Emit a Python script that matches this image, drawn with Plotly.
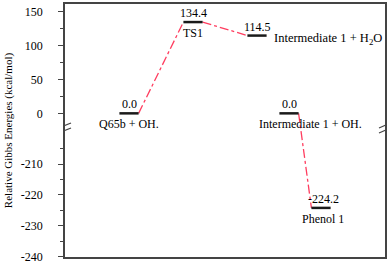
import numpy as np
import plotly.graph_objects as go

# ---------------- data ----------------
stage_names = ["Q65b + OH.", "TS1", "Intermediate 1 + H<sub>2</sub>O",
               "Intermediate 1 + OH.", "Phenol 1"]
stage_x = [1.0, 2.0, 3.0, 3.5, 4.0]
energies = [0.0, 134.4, 114.5, 0.0, -224.2]
connections = [(0, 1), (1, 2), (3, 4)]

major_ticks = [150, 100, 50, 0, -210, -220, -230, -240]
minor_ticks = [125, 75, 25, -205, -215, -225, -235]
y_title = "Relative Gibbs Energies (kcal/mol)"

# ---------------- broken-axis transform ----------------
BRK_HI = -20.0    # upper segment visible down to this value
BRK_LO = -198.0   # lower segment visible up to this value
K = 4.55          # stretch of lower segment
Y_TOP = 161.0
Y_BOT = -240.0


def ty(v):
    v = np.asarray(v, dtype=float)
    return np.where(v > (BRK_HI + BRK_LO) / 2, v, BRK_HI + (v - BRK_LO) * K)


HW = 0.15  # half width of level bars (x units)
FONT = "Liberation Serif"
BAR_COLOR = "#1a1a1a"
LINE_COLOR = "#ff3d5f"
AXIS_COLOR = "#444444"

fig = go.Figure()

# connecting dash-dot lines
for i, j in connections:
    fig.add_trace(go.Scatter(
        x=[stage_x[i] + HW, stage_x[j] - HW],
        y=ty([energies[i], energies[j]]),
        mode="lines",
        line=dict(color=LINE_COLOR, width=1.3, dash="dashdot"),
        hoverinfo="skip", showlegend=False))

# energy level bars
for xs, e in zip(stage_x, energies):
    fig.add_trace(go.Scatter(
        x=[xs - HW, xs + HW], y=ty([e, e]),
        mode="lines", line=dict(color=BAR_COLOR, width=2.5),
        hoverinfo="skip", showlegend=False))

annotations = []
name_place = {2: "right"}
name_xshift = {3: 21}
for k, (xs, e, nm) in enumerate(zip(stage_x, energies, stage_names)):
    yy = float(ty(e))
    annotations.append(dict(
        x=xs, y=yy, text=f"{e:.1f}", showarrow=False,
        xanchor="center", yanchor="bottom", yshift=0,
        xshift=2 if e < 0 else 0,
        font=dict(family=FONT, size=12, color="black")))
    if name_place.get(k) == "right":
        annotations.append(dict(
            x=xs + HW, y=yy, text=nm, showarrow=False,
            xanchor="left", yanchor="middle", xshift=5, yshift=-3,
            font=dict(family=FONT, size=12.5, color="black")))
    else:
        annotations.append(dict(
            x=xs, y=yy, text=nm, showarrow=False,
            xanchor="center", yanchor="top", yshift=-2,
            xshift=name_xshift.get(k, 2 if e < 0 else 0),
            font=dict(family=FONT, size=12, color="black")))

# axis break marks (left and right frame)
shapes = []
for xa in (0.0, 5.0):
    shapes.append(dict(type="path", xref="x", yref="y", xsizemode="pixel",
                       ysizemode="pixel", xanchor=xa, yanchor=BRK_HI,
                       path="M -6 -1 L 6 4 L 6 -1 L -6 -6 Z",
                       fillcolor="white", line=dict(width=0), layer="above"))
    for p in ("M -6 -1 L 6 4", "M -6 -6 L 6 -1"):
        shapes.append(dict(type="path", xref="x", yref="y", xsizemode="pixel",
                           ysizemode="pixel", xanchor=xa, yanchor=BRK_HI,
                           path=p, line=dict(color=AXIS_COLOR, width=1.2),
                           layer="above"))

fig.update_layout(
    width=392, height=266,
    margin=dict(l=65, r=7, t=2, b=7),
    paper_bgcolor="white", plot_bgcolor="white",
    font=dict(family=FONT, size=12, color="black"),
    annotations=annotations, shapes=shapes,
    xaxis=dict(range=[0, 5], showgrid=False, zeroline=False,
               showticklabels=False, ticks="", showline=True,
               linecolor=AXIS_COLOR, linewidth=1.5, mirror=True,
               fixedrange=True),
    yaxis=dict(range=[float(ty(Y_BOT)) - 0.4, Y_TOP], showgrid=False,
               zeroline=False,
               tickmode="array", tickvals=ty(major_ticks).tolist(),
               ticktext=[str(t) for t in major_ticks],
               ticks="outside", ticklen=5, tickcolor=AXIS_COLOR, tickwidth=1,
               ticklabelstandoff=13,
               minor=dict(tickmode="array", tickvals=ty(minor_ticks).tolist(),
                          ticks="outside", ticklen=3, tickcolor=AXIS_COLOR),
               showline=True, linecolor=AXIS_COLOR, linewidth=1.5, mirror=True,
               title=dict(text=y_title, font=dict(family=FONT, size=11),
                          standoff=6),
               tickfont=dict(family=FONT, size=12, color="black"),
               fixedrange=True),
)

fig.write_html(
    "out.html",
    config={"displayModeBar": False},
    post_script="document.body.style.margin='0';document.body.style.overflow='hidden';",
)
